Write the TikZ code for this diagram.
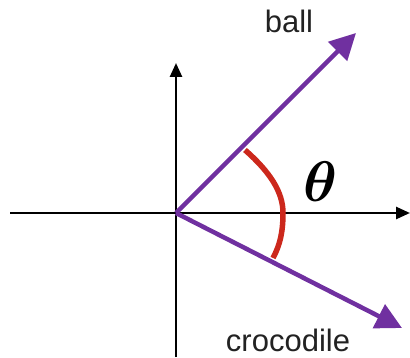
\documentclass[tikz,border=0pt]{standalone}
\usepackage{fontspec}
\setsansfont{Liberation Sans}
\usetikzlibrary{arrows.meta}
\definecolor{vpurple}{RGB}{112,48,160}
\definecolor{vred}{RGB}{204,40,28}
\definecolor{txt}{RGB}{34,34,34}
\tikzset{
  axisline/.style={draw=black,line width=2.6pt,-{Triangle[length=14pt,width=12pt]}},
  vecline/.style={draw=vpurple,line width=4.5pt,-{Triangle[length=26pt,width=26pt]}},
  lbl/.style={font=\sffamily\fontsize{31}{31}\selectfont,text=txt,inner sep=0pt,anchor=base},
  thetalbl/.style={font=\Huge\boldmath,inner sep=0pt,scale=2.3}
}
\begin{document}
\begin{tikzpicture}[x=1pt,y=1pt]
\useasboundingbox (0,0) rectangle (410,357);
\coordinate (O) at (176,144);
\coordinate (L) at (10,144);
\coordinate (R) at (410,144);
\coordinate (B) at (176,0);
\coordinate (T) at (176,294);
\coordinate (pb) at (356,324);
\coordinate (pc) at (402,29);
\coordinate (a1) at (245,207);
\coordinate (a2) at (283,144);
\coordinate (a3) at (273,99);
\draw[axisline] (L) -- (R);
\draw[axisline] (B) -- (T);
\draw[vecline] (O) -- (pb);
\draw[vecline] (O) -- (pc);
\draw[vred,line width=5.5pt] (a1) .. controls (270,185) and (283,165) .. (a2) .. controls (283,125) and (280,112) .. (a3);
\node[thetalbl] (th) at (320,175) {$\theta$};
\node[lbl] (lb) at (289,324) {ball};
\node[lbl] (lc) at (288,6) {crocodile};
\end{tikzpicture}
\end{document}
